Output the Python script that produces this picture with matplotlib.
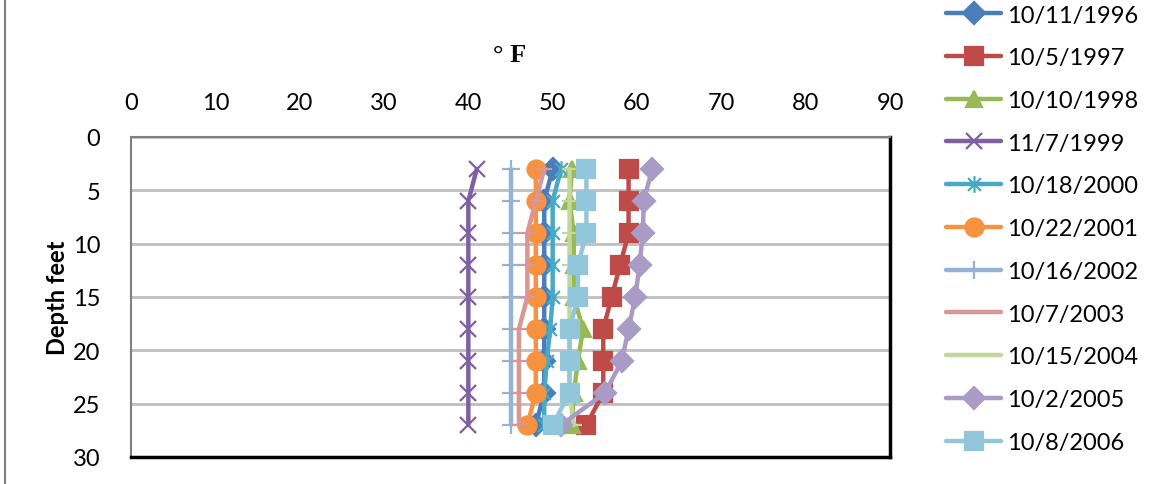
import numpy as np
import matplotlib
matplotlib.use("Agg")
import matplotlib.pyplot as plt
from matplotlib.path import Path
from matplotlib.lines import Line2D

# depth profiles of water temperature, one series per survey date

depth = [3, 6, 9, 12, 15, 18, 21, 24, 27]

t_1996 = [50, 49, 49, 49, 49, 49, 49, 49, 48]
t_1997 = [59, 59, 59, 58, 57, 56, 56, 56, 54]
t_1998 = [52.3, 52, 52.5, 52.5, 52.5, 53.6, 53, 52.5, 52.3]
t_1999 = [41, 40, 40, 40, 40, 40, 40, 40, 40]
t_2000 = [51, 50, 50, 50, 50, 49.7, 49.3, 49, 49]
t_2001 = [48, 48, 48, 48, 48, 48, 48, 48, 47]
t_2002 = [45, 45, 45, 45, 45, 45, 45, 45, 45]
t_2003 = [49, 48, 47, 47, 47, 46, 46, 46, 46]
t_2004 = [52, 52, 52, 52, 52, 52, 52, 52, 52.5]
t_2005 = [61.8, 60.8, 60.7, 60.3, 59.8, 59, 58.2, 56.2, 51]
t_2006 = [54, 54, 54, 53, 53, 52, 52, 52, 50]

labels = ["10/11/1996", "10/5/1997", "10/10/1998", "11/7/1999", "10/18/2000",
          "10/22/2001", "10/16/2002", "10/7/2003", "10/15/2004", "10/2/2005", "10/8/2006"]
series = [t_1996, t_1997, t_1998, t_1999, t_2000, t_2001,
          t_2002, t_2003, t_2004, t_2005, t_2006]

x_ticks = [0, 10, 20, 30, 40, 50, 60, 70, 80, 90]
y_ticks = [0, 5, 10, 15, 20, 25, 30]

# excel style asterisk: an x with a vertical bar through it
star = Path([(-1, -1), (1, 1), (-1, 1), (1, -1), (0, -1.3), (0, 1.3)],
            [Path.MOVETO, Path.LINETO, Path.MOVETO, Path.LINETO, Path.MOVETO, Path.LINETO])

styles = [
    ("#4A7EBB", "D", 11),
    ("#BE4B48", "s", 13),
    ("#98B954", "^", 12),
    ("#7D60A0", "x", 12),
    ("#46AAC5", star, 12),
    ("#F69240", "o", 13),
    ("#95B3D7", "+", 13),
    ("#D99694", "_", 12),
    ("#C3D69B", "_", 12),
    ("#A99BC5", "D", 11),
    ("#92C6DB", "s", 13),
]

plt.rcParams["font.family"] = ["Lato", "DejaVu Sans"]

fig = plt.figure(figsize=(11.53, 4.85), dpi=100)
ax = fig.add_axes([131 / 1153, 1 - 458 / 485, (890 - 131) / 1153, (458 - 138) / 485])

handles = []
for vals, lab, (col, mk, ms) in zip(series, labels, styles):
    line, = ax.plot(vals, depth, color=col, lw=3.2, marker=mk, markersize=ms,
                    markeredgewidth=1.6, markeredgecolor=col, markerfacecolor=col,
                    label=lab, solid_capstyle="round")
    handles.append(line)

ax.set_xlim(0, 90)
ax.set_ylim(30, 0)
ax.set_xticks(x_ticks)
ax.set_yticks(y_ticks)
ax.xaxis.tick_top()
ax.tick_params(axis="both", length=0, labelsize=17)
ax.tick_params(axis="x", pad=17)
ax.tick_params(axis="y", pad=22)

ax.yaxis.grid(True, color="#BFBFBF", lw=2)
ax.set_axisbelow(True)
ax.spines["left"].set_color("#808080")
ax.spines["top"].set_color("#808080")
ax.spines["left"].set_linewidth(1.5)
ax.spines["top"].set_linewidth(1.5)
ax.spines["right"].set_color("black")
ax.spines["bottom"].set_color("black")
ax.spines["right"].set_linewidth(2.5)
ax.spines["bottom"].set_linewidth(2.5)

ax.set_ylabel("Depth feet", fontsize=17, fontweight="bold", labelpad=3)

fig.text(510 / 1153, 1 - 55 / 485, "° F", family="Liberation Serif", fontweight="bold",
         fontsize=19, ha="center", va="center")

fig.legend(handles=handles, loc="upper left", bbox_to_anchor=(937 / 1153, 1.008),
           frameon=False, fontsize=17, handlelength=2.3, labelspacing=0.92,
           handletextpad=0.25, borderaxespad=0)

# outer chart frame on the left
fig.add_artist(Line2D([5 / 1153, 5 / 1153], [0, 1], color="#808080", lw=1.5))

fig.savefig("out.png", dpi=100)
